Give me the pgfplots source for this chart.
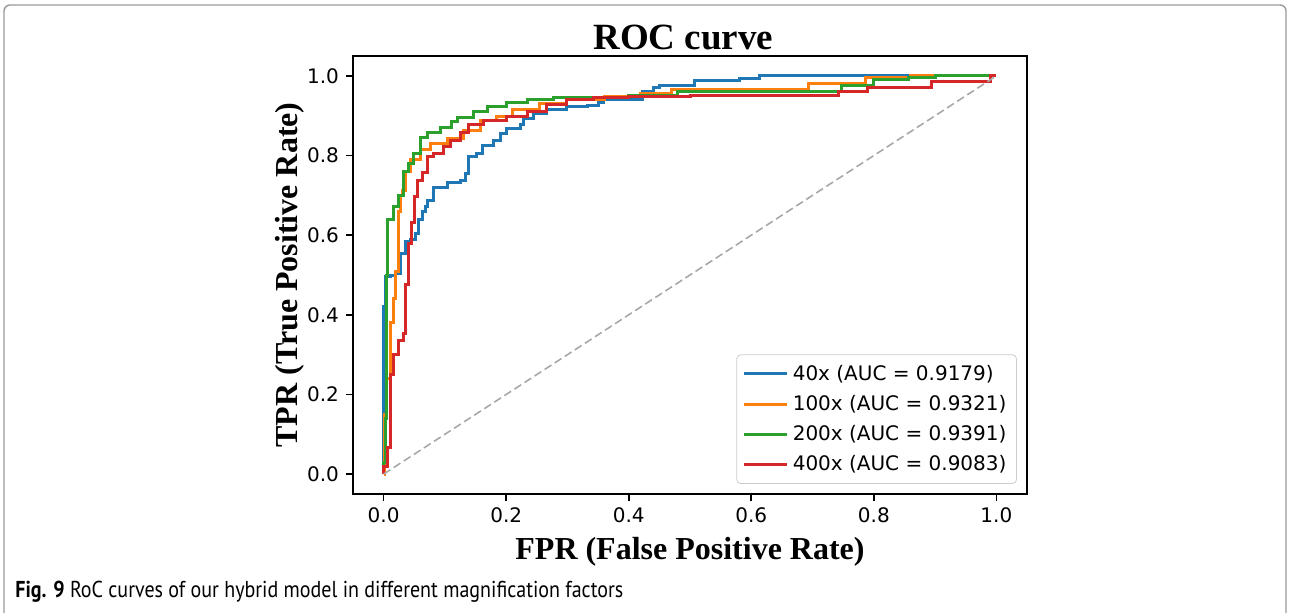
\documentclass[border=0pt]{standalone}
\usepackage{pgfplots}
\pgfplotsset{compat=1.18}
\usepackage{fontspec}
\setmainfont{Liberation Serif}
\newfontfamily\dejavu{DejaVu Sans}
\newfontfamily\capfont[FakeStretch=0.87]{PT Sans}
\definecolor{c1}{HTML}{1F77B4}
\definecolor{c2}{HTML}{FF7F0E}
\definecolor{c3}{HTML}{2CA02C}
\definecolor{c4}{HTML}{D62728}
\definecolor{diag}{HTML}{A8A8A8}
\pgfplotstableread{
x y
0 0
0 0.42
0.003 0.495
0.011 0.50
0.02 0.505
0.028 0.555
0.036 0.583
0.044 0.59
0.052 0.605
0.057 0.64
0.063 0.66
0.068 0.672
0.071 0.688
0.081 0.72
0.104 0.733
0.125 0.737
0.133 0.755
0.138 0.797
0.152 0.806
0.161 0.826
0.179 0.839
0.19 0.856
0.2 0.869
0.223 0.877
0.228 0.894
0.244 0.906
0.266 0.915
0.299 0.922
0.332 0.925
0.35 0.932
0.358 0.94
0.423 0.96
0.44 0.972
0.45 0.977
0.507 0.988
0.58 0.993
0.613 1.0
1 1
}\tblue
\pgfplotstableread{
x y
0 0
0.002 0.15
0.005 0.24
0.011 0.38
0.016 0.44
0.02 0.51
0.024 0.66
0.028 0.70
0.031 0.713
0.035 0.76
0.044 0.79
0.06 0.814
0.076 0.83
0.104 0.843
0.13 0.864
0.158 0.889
0.185 0.897
0.21 0.915
0.255 0.93
0.299 0.94
0.36 0.948
0.42 0.955
0.47 0.967
0.694 0.982
0.786 0.995
0.86 1.0
1 1
}\torange
\pgfplotstableread{
x y
0 0
0 0.03
0.003 0.14
0.005 0.5
0.007 0.64
0.016 0.672
0.025 0.70
0.033 0.76
0.04 0.78
0.049 0.805
0.06 0.845
0.071 0.857
0.093 0.87
0.11 0.885
0.12 0.895
0.147 0.91
0.169 0.922
0.2 0.932
0.234 0.94
0.277 0.946
0.4 0.95
0.48 0.96
0.748 0.977
0.80 0.99
0.857 0.997
0.9 1.0
1 1
}\tgreen
\pgfplotstableread{
x y
0 0
0 0.02
0.006 0.068
0.011 0.25
0.016 0.30
0.024 0.336
0.033 0.354
0.036 0.475
0.041 0.58
0.046 0.633
0.05 0.696
0.055 0.738
0.063 0.758
0.071 0.797
0.081 0.806
0.098 0.822
0.109 0.839
0.125 0.857
0.138 0.877
0.163 0.889
0.201 0.897
0.234 0.91
0.266 0.927
0.299 0.94
0.342 0.945
0.4 0.948
0.5 0.952
0.743 0.96
0.79 0.97
0.894 0.985
0.99 1.0
1 1
}\tred
\begin{document}
\begin{tikzpicture}
\useasboundingbox (0pt,0pt) rectangle (644.5pt,306pt);
\draw[black!40, line width=0.7pt, rounded corners=3pt] (2pt,-10pt) -- (2pt,303.5pt) -- (643pt,303.5pt) -- (643pt,-10pt);
\node[anchor=base west, font=\capfont\fontsize{11.5}{13}\selectfont, inner sep=0pt] at (7.5pt,7.5pt) {\textbf{Fig. 9} RoC curves of our hybrid model in different magnification factors};
\begin{axis}[
  at={(176.5pt,59pt)}, anchor=south west,
  scale only axis, width=337pt, height=219pt,
  xmin=-0.05, xmax=1.05, ymin=-0.05, ymax=1.05,
  xtick={0,0.2,0.4,0.6,0.8,1.0}, ytick={0,0.2,0.4,0.6,0.8,1.0},
  tick align=outside, major tick length=3.5pt,
  xtick pos=bottom, ytick pos=left,
  axis line style={line width=0.8pt},
  every tick/.style={black, line width=0.8pt},
  /pgf/number format/assume math mode=true,
  xticklabel style={/pgf/number format/.cd, fixed, fixed zerofill, precision=1},
  yticklabel style={/pgf/number format/.cd, fixed, fixed zerofill, precision=1},
  tick label style={font=\dejavu\fontsize{10}{12}\selectfont},
  title={\bfseries ROC curve},
  title style={font=\fontsize{18.5}{20}\selectfont, at={(axis description cs:0.49,1.016)}, anchor=center, yshift=0pt},
  xlabel={\bfseries FPR (False Positive Rate)},
  ylabel={\bfseries TPR (True Positive Rate)},
  xlabel style={font=\fontsize{16}{18}\selectfont, at={(axis description cs:0.5,-0.132)}, anchor=center},
  ylabel style={font=\fontsize{16}{18}\selectfont, at={(axis description cs:-0.0935,0.5)}, anchor=center},
  legend style={at={(axis description cs:0.985,0.023)}, anchor=south east, draw=black!20, rounded corners=2pt, fill=white, font=\dejavu\fontsize{10}{12}\selectfont, row sep=2pt, inner sep=3pt},
  legend cell align=left,
  legend image code/.code={\draw[#1] (0pt,0pt) -- (21.5pt,0pt);},
]
\addplot[c1, line width=1.5pt, const plot mark left] table {\tblue};
\addlegendentry{40x (AUC = 0.9179)}
\addplot[c2, line width=1.5pt, const plot mark left] table {\torange};
\addlegendentry{100x (AUC = 0.9321)}
\addplot[c3, line width=1.5pt, const plot mark left] table {\tgreen};
\addlegendentry{200x (AUC = 0.9391)}
\addplot[c4, line width=1.5pt, const plot mark left] table {\tred};
\addlegendentry{400x (AUC = 0.9083)}
\addplot[diag, line width=0.8pt, dash pattern=on 4pt off 2pt, forget plot] coordinates {(0,0) (1,1)};
\end{axis}
\end{tikzpicture}
\end{document}
